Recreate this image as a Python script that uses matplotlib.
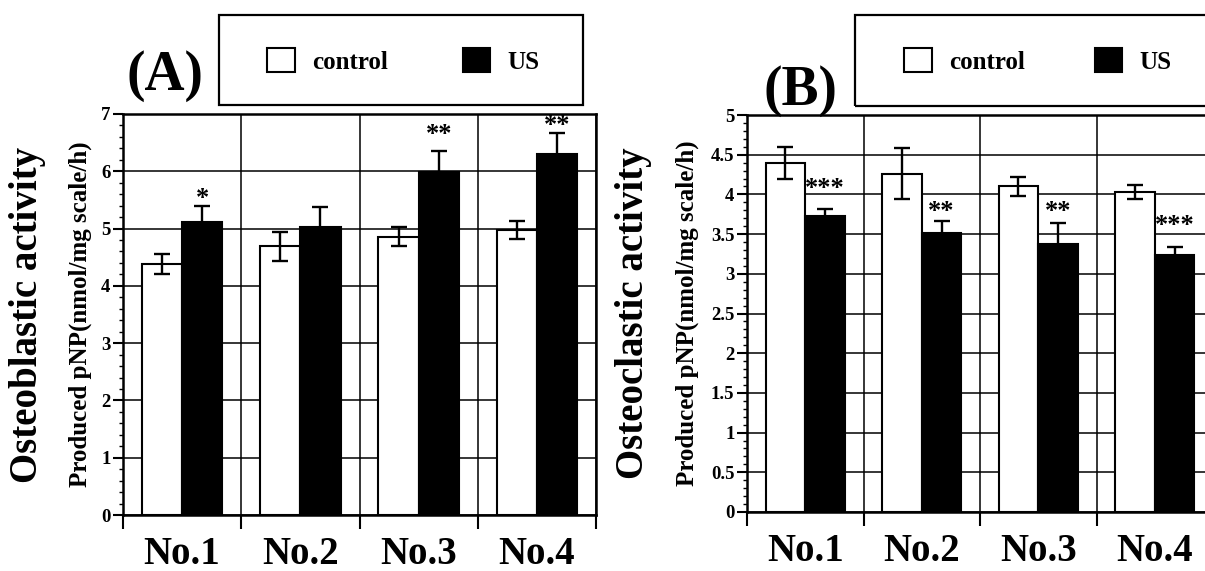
import matplotlib
matplotlib.use("Agg")
import matplotlib.pyplot as plt
from matplotlib.patches import Rectangle
from matplotlib.ticker import MultipleLocator, FixedLocator, NullFormatter, FormatStrFormatter
import numpy as np

plt.rcParams['font.family'] = ['Liberation Serif', 'DejaVu Serif']
plt.rcParams['font.weight'] = 'bold'

categories = ["No.1", "No.2", "No.3", "No.4"]
series_names = ["control", "US"]

# Panel A: osteoblastic activity
a_control = [4.38, 4.69, 4.86, 4.98]
a_control_err = [0.18, 0.25, 0.16, 0.16]
a_us = [5.12, 5.03, 5.98, 6.30]
a_us_err = [0.27, 0.35, 0.37, 0.37]
a_stars = ["*", "", "**", "**"]
a_star_y = [5.63, None, 6.74, 6.90]

# Panel B: osteoclastic activity
b_control = [4.40, 4.26, 4.10, 4.03]
b_control_err = [0.20, 0.32, 0.12, 0.09]
b_us = [3.73, 3.51, 3.38, 3.24]
b_us_err = [0.09, 0.15, 0.26, 0.10]
b_stars = ["***", "**", "**", "***"]
b_star_y = [4.15, 3.85, 3.85, 3.68]

W, H = 1205, 571
fig = plt.figure(figsize=(W / 100, H / 100), dpi=100)


def fx(px):
    return px / W


def fy(py):
    return 1 - py / H


def panel(rect, control, cerr, us, uerr, stars, star_y, ymax, major, minor,
          ylabel_big, ylabel_small, tag, tag_xy, legend_box, legend_anchor,
          colspacing, ylab_x):
    x0, x1, ytop, ybot = rect
    ax = fig.add_axes([fx(x0), fy(ybot), fx(x1 - x0), (ybot - ytop) / H])
    x = np.arange(len(categories))
    off = 0.17
    wbar = 0.34
    b1 = ax.bar(x - off, control, wbar, color="white", edgecolor="black",
                linewidth=1.5, zorder=2, label=series_names[0])
    b2 = ax.bar(x + off, us, wbar, color="black", edgecolor="black",
                linewidth=1.5, zorder=2, label=series_names[1])
    ax.errorbar(x - off, control, yerr=cerr, fmt="none", ecolor="black",
                elinewidth=1.7, capsize=5.5, capthick=1.7, zorder=3)
    ax.errorbar(x + off, us, yerr=uerr, fmt="none", ecolor="black",
                elinewidth=1.7, capsize=5.5, capthick=1.7, zorder=3)
    for xi, s, sy in zip(x, stars, star_y):
        if s:
            ax.annotate(s, (xi + off, sy), xytext=(0, -4), textcoords="offset points",
                        ha="center", va="center", fontsize=19,
                        fontweight="bold", zorder=4)
    ax.set_xlim(-0.5, len(categories) - 0.5)
    ax.set_ylim(0, ymax)
    ax.yaxis.set_major_locator(MultipleLocator(major))
    ax.yaxis.set_major_formatter(FormatStrFormatter("%g"))
    ax.yaxis.set_minor_locator(MultipleLocator(minor))
    ax.xaxis.set_major_locator(FixedLocator(np.arange(-0.5, len(categories), 1.0)))
    ax.xaxis.set_major_formatter(NullFormatter())
    ax.xaxis.set_minor_locator(FixedLocator(x))
    ax.set_xticklabels(categories, minor=True)
    ax.tick_params(axis="x", which="major", length=10, width=1.5, direction="out")
    ax.tick_params(axis="x", which="minor", length=0, pad=15, labelsize=28)
    ax.tick_params(axis="y", which="major", length=7, width=1.5, direction="out",
                   labelsize=13.5, pad=2)
    ax.tick_params(axis="y", which="minor", length=3, width=1.0, direction="out")
    for lab in ax.get_xticklabels(minor=True) + ax.get_yticklabels():
        lab.set_fontweight("bold")
    ax.set_axisbelow(True)
    ax.grid(True, which="major", axis="both", color="black", linewidth=1.1)
    for sp in ax.spines.values():
        sp.set_linewidth(1.8)
    # y labels
    yc = fy((ytop + ybot) / 2)
    fig.text(fx(ylab_x[0]), yc, ylabel_big, rotation=90, ha="center", va="center",
             fontsize=28, fontweight="bold")
    fig.text(fx(ylab_x[1]), yc, ylabel_small, rotation=90, ha="center", va="center",
             fontsize=18, fontweight="bold")
    fig.text(fx(tag_xy[0]), fy(tag_xy[1]), tag, ha="center", va="center",
             fontsize=40, fontweight="bold")
    # legend frame
    lx0, lx1, ly0, ly1 = legend_box
    fig.patches.append(Rectangle((fx(lx0), fy(ly1)), fx(lx1 - lx0), (ly1 - ly0) / H,
                                 transform=fig.transFigure, fill=False,
                                 edgecolor="black", linewidth=1.6))
    fig.legend([b1, b2], series_names, loc="center left",
               bbox_to_anchor=(fx(legend_anchor[0]), fy(legend_anchor[1])),
               ncol=2, frameon=False, borderpad=0, borderaxespad=0,
               handlelength=1.1, handleheight=1.1, handletextpad=0.7,
               columnspacing=colspacing,
               prop={"size": 18, "weight": "bold"})
    return ax


panel((123, 596, 114, 515), a_control, a_control_err, a_us, a_us_err,
      a_stars, a_star_y, 7, 1, 0.2,
      "Osteoblastic activity", "Produced pNP(nmol/mg scale/h)",
      "(A)", (165, 76), (219, 583, 15, 105), (267, 61), 3.0, (28, 80))

panel((747, 1213, 115, 512), b_control, b_control_err, b_us, b_us_err,
      b_stars, b_star_y, 5, 0.5, 0.1,
      "Osteoclastic activity", "Produced pNP(nmol/mg scale/h)",
      "(B)", (800, 91), (855, 1220, 15, 106), (904, 61), 2.8, (633, 687))

fig.savefig("out.png", dpi=100)
